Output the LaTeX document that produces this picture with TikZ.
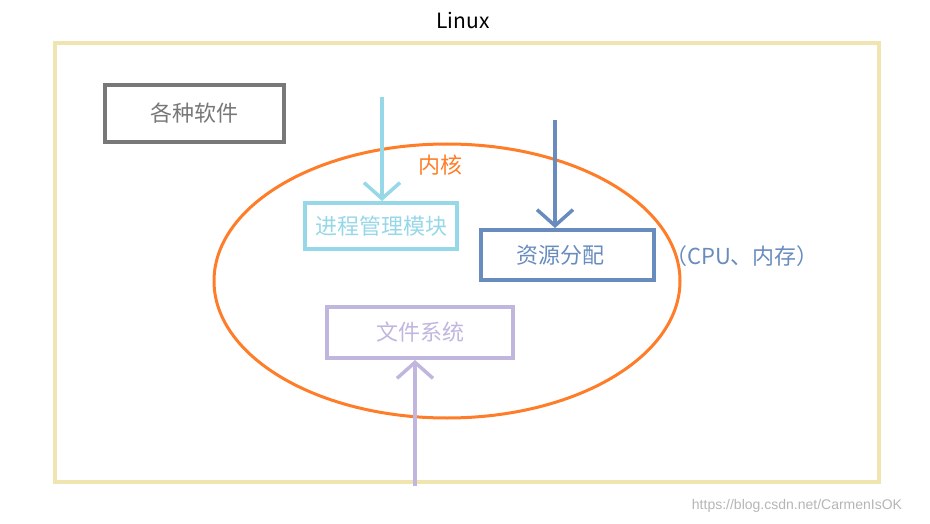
\documentclass[tikz,border=0pt]{standalone}
\usepackage{fontspec}
\setmainfont{Noto Sans CJK SC}
\newfontfamily\wmfont{Liberation Sans}
\usetikzlibrary{arrows.meta,shapes.geometric}
\definecolor{frame}{RGB}{240,228,176}
\definecolor{gr}{RGB}{120,120,120}
\definecolor{org}{RGB}{255,125,40}
\definecolor{lb}{RGB}{150,215,232}
\definecolor{sb}{RGB}{104,140,190}
\definecolor{lav}{RGB}{192,182,222}
\begin{document}
\begin{tikzpicture}[x=1pt,y=-1pt,
  box/.style={draw,line width=4pt,inner sep=0pt},
  arr/.style={line width=3.5pt,-{Straight Barb[length=16pt,width=36pt,line width=3.5pt]}},
  lbl/.style={font=\fontsize{22}{26}\selectfont}]
\useasboundingbox (0,0) rectangle (930,524);
\node[box,draw=frame,minimum width=824pt,minimum height=439pt] (outer) at (467,262.5) {};
\node[lbl,font=\fontsize{21}{24}\selectfont] (linux) at (463,21) {Linux};
\node[box,draw=gr,text=gr,lbl,minimum width=179pt,minimum height=57pt] (sw) at (194.5,113.5) {各种软件};
\node[draw=org,line width=3pt,ellipse,inner sep=0pt,minimum width=466pt,minimum height=274pt] (kern) at (447,281) {};
\node[lbl,text=org] (kt) at (440,165) {内核};
\node[box,draw=lb,text=lb,lbl,minimum width=152pt,minimum height=46pt] (proc) at (381,226) {进程管理模块};
\node[box,draw=sb,text=sb,lbl,minimum width=173pt,minimum height=50pt] (res) at (567.5,255) {\hspace*{-14pt}资源分配};
\node[lbl,text=sb] (cpu) at (742,256) {（CPU、内存）};
\node[box,draw=lav,text=lav,lbl,minimum width=186pt,minimum height=51pt] (fs) at (420,332.5) {文件系统};
\coordinate (a1) at (382,97);
\coordinate (a2) at (555,120);
\coordinate (a3) at (415,486);
\draw[arr,lb] (a1) -- (proc.north -| a1);
\draw[arr,sb] (a2) -- (res.north -| a2);
\draw[arr,lav] (a3) -- (fs.south -| a3);
\node[text=gr!55,font=\fontsize{14}{16}\selectfont\wmfont] (wm) at (797,506) {https://blog.csdn.net/CarmenIsOK};
\end{tikzpicture}
\end{document}
